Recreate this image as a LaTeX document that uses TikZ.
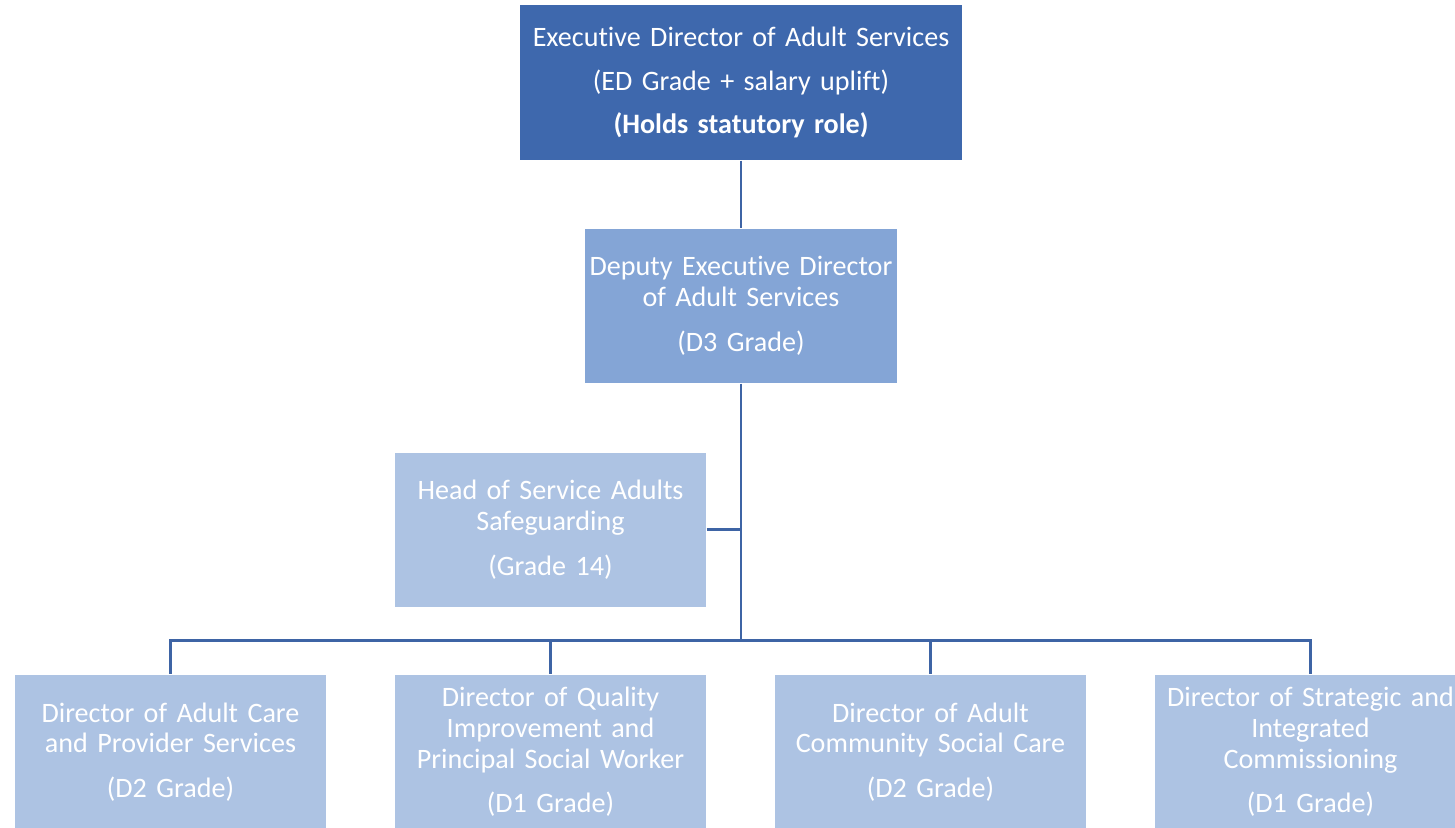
\documentclass[tikz,border=0pt]{standalone}
\usepackage{fontspec}
\setmainfont{Carlito}[Ligatures={NoCommon}]
\usepackage{tikz}
\usetikzlibrary{positioning,calc}
\definecolor{edblue}{RGB}{62,104,173}
\definecolor{depblue}{RGB}{132,165,214}
\definecolor{dirblue}{RGB}{173,195,227}
\definecolor{lineblue}{RGB}{62,100,165}

\begin{document}
\begin{tikzpicture}[node distance=4.47cm, semithick]
\tikzstyle{post}=[rectangle, draw=none, inner sep=0pt, fill=dirblue, text=white,
 align=center, minimum width=6.22cm, minimum height=3.08cm, text width=6.1cm,
 font=\fontsize{16}{17.5}\selectfont]
\tikzstyle{link}=[draw=lineblue, line width=1.5pt]

\useasboundingbox (0,0) rectangle (29.1,-16.54);
\clip (0,0) rectangle (29.1,-16.54);

\node[post, fill=edblue, minimum width=8.84cm, minimum height=3.1cm, text width=8.7cm]
(ED) at (14.82,-1.65) {Executive Director of Adult Services\\[7pt] (ED Grade + salary uplift)\\[7pt] \textbf{(Holds statutory role)}};

\node[post, fill=depblue, minimum width=6.24cm] (Dep) [below of=ED] {Deputy Executive Director\\ of Adult Services\\[8pt] (D3 Grade)};

\node[post] (Head) [below of=Dep, xshift=-3.81cm] {Head of Service Adults\\ Safeguarding\\[8pt] (Grade 14)};

%directors
\node[post] (DirQ) [node distance=8.92cm, below of=Dep, xshift=-3.81cm] {Director of Quality\\ Improvement and\\ Principal Social Worker\\[8pt] (D1 Grade)};
\node[post] (DirA) [node distance=7.6cm, left of=DirQ] {Director of Adult Care\\ and Provider Services\\[8pt] (D2 Grade)};
\node[post] (DirC) [node distance=7.6cm, right of=DirQ] {Director of Adult\\ Community Social Care\\[8pt] (D2 Grade)};
\node[post] (DirS) [node distance=7.6cm, right of=DirC] {Director of Strategic and\\ Integrated\\ Commissioning\\[8pt] (D1 Grade)};

\coordinate[below=5.14cm of Dep.south] (bus);
\coordinate (hj) at (Head -| Dep);

\draw[link] (ED) -- (Dep);
\draw[link] (Dep) -- (bus);
\draw[link] (Head) -- (hj);
\draw[link] (bus) -| (DirA);
\draw[link] (bus) -| (DirQ);
\draw[link] (bus) -| (DirC);
\draw[link] (bus) -| (DirS);

\end{tikzpicture}
\end{document}
